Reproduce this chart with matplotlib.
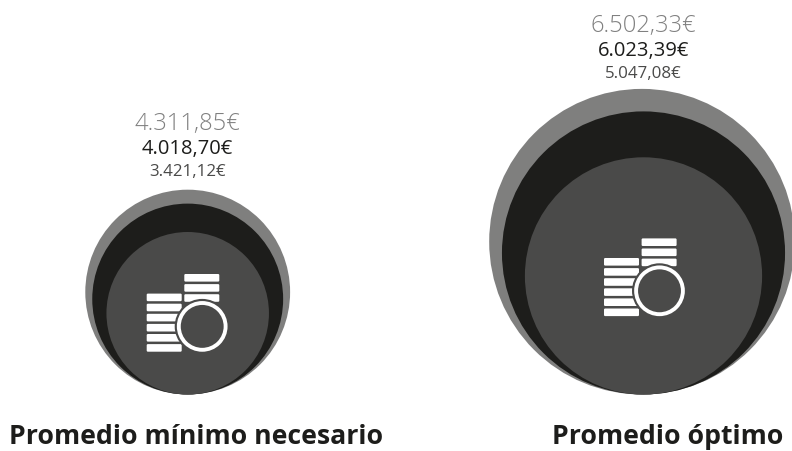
import matplotlib
matplotlib.use("Agg")
import matplotlib.pyplot as plt
from matplotlib.patches import Circle, FancyBboxPatch

categories = ['Promedio mínimo necesario', 'Promedio óptimo']
top_values = [4311.85, 6502.33]
mid_values = [4018.70, 6023.39]
low_values = [3421.12, 5047.08]

# layout, in pixels of the 792x451 picture
center_x = [187.7, 643.5]
outer_shift = [0, -1.5]
label_x = [196.5, 668]
text_shift = [0, 2.5]
bottom_y = 394.5
px_per_euro = [0.02375, 0.0235]
icon_x = [146.7, 604.0]
icon_y = [293.6, 258.0]

plt.rcParams['font.family'] = ['Open Sans', 'DejaVu Sans']


def euro(v):
    s = f'{v:,.2f}'
    return s.replace(',', 'X').replace('.', ',').replace('X', '.') + '€'


def bars(ax, x, y, n):
    for i in range(n):
        ax.add_patch(FancyBboxPatch((x + 1, y + i * 10.1 + 1), 33, 5.6,
                                    boxstyle='round,pad=1,rounding_size=1.2',
                                    fc='white', ec='none', zorder=5))


def coins(ax, x, y, bg):
    bars(ax, x, y, 6)
    bars(ax, x + 37.6, y - 19.6, 3)
    cx, cy = x + 55.5, y + 32.8
    ax.add_patch(Circle((cx, cy), 27.5, fc=bg, ec='none', zorder=6))
    ax.add_patch(Circle((cx, cy), 23.4, fc=bg, ec='white', lw=2.8, zorder=7))


fig = plt.figure(figsize=(7.92, 4.51), dpi=100)
ax = fig.add_axes([0, 0, 1, 1])
ax.set_xlim(0, 792)
ax.set_ylim(451, 0)
ax.axis('off')

for i in range(2):
    r1 = top_values[i] * px_per_euro[i]
    r2 = mid_values[i] * px_per_euro[i]
    r3 = low_values[i] * px_per_euro[i]
    ax.add_patch(Circle((center_x[i] + outer_shift[i], bottom_y - r1), r1, fc='#7f7f7e', ec='none'))
    ax.add_patch(Circle((center_x[i], bottom_y - r2), r2, fc='#1d1d1b', ec='none'))
    ax.add_patch(Circle((center_x[i], bottom_y - r3), r3, fc='#4a4a49', ec='none'))
    coins(ax, icon_x[i], icon_y[i], '#4a4a49')

    top = bottom_y - 2 * r1 + text_shift[i]
    ax.text(center_x[i], top - 59.7, euro(top_values[i]), ha='center', va='baseline',
            fontsize=17.1, color='#808080', fontweight='light')
    ax.text(center_x[i], top - 35.7, euro(mid_values[i]), ha='center', va='baseline',
            fontsize=14.5, color='#1d1d1b', fontweight='medium')
    ax.text(center_x[i], top - 13.7, euro(low_values[i]), ha='center', va='baseline',
            fontsize=12.2, color='#4a4a49')
    ax.text(label_x[i], 444.5, categories[i], ha='center', va='baseline',
            fontsize=19.2, color='#1d1d1b', fontweight='bold')

plt.savefig('out.png', dpi=100)
